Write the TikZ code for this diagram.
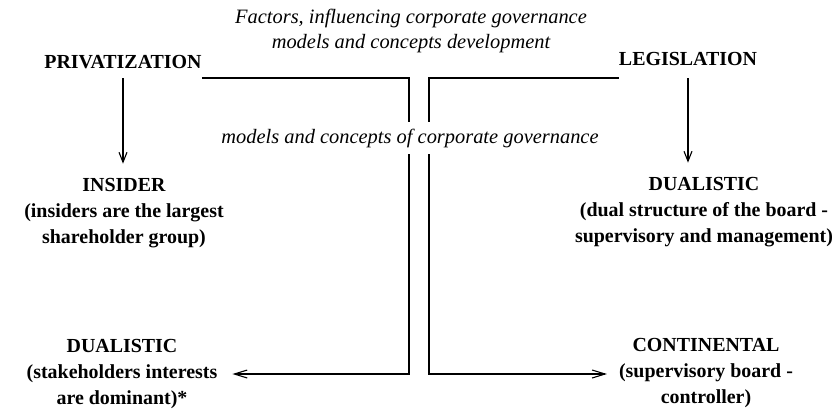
\documentclass[tikz,border=0pt]{standalone}
\usepackage{fontspec}
\setmainfont{Liberation Serif}
\usetikzlibrary{arrows.meta}
\begin{document}
\begin{tikzpicture}[x=1bp,y=-1bp,
  lbl/.style={font=\bfseries\fontsize{20}{26.5}\selectfont, align=center, inner sep=0pt},
  note/.style={font=\itshape\fontsize{20.5}{26}\selectfont, align=center, inner sep=0pt},
  wire/.style={line width=1.1pt},
  downarrow/.style={wire, -{Straight Barb[length=10pt,width=8pt]}},
  sidearrow/.style={wire, -{Straight Barb[length=13pt,width=8pt]}}]
  \fill[white] (0,0) rectangle (838,412);
  \useasboundingbox (0,0) rectangle (838,412);

  % headings
  \node[note] (title) at (411,31) {Factors, influencing corporate governance\\models and concepts development};
  \node[lbl] (priv) at (123,62) {PRIVATIZATION};
  \node[lbl] (legis) at (688,59) {LEGISLATION};

  % resulting models
  \node[lbl] (insider) at (124,213) {INSIDER\\(insiders are the largest\\shareholder group)};
  \node[lbl] (dualR) at (704,212) {DUALISTIC\\(dual structure of the board -\\supervisory and management)};
  \node[lbl] (dualL) at (122,374) {DUALISTIC\\(stakeholders interests\\are dominant)*};
  \node[lbl] (cont) at (706,373) {CONTINENTAL\\(supervisory board -\\controller)};

  % bends of the two crossing connectors
  \coordinate (lb1) at (409,78);
  \coordinate (lb2) at (409,374);
  \coordinate (rb1) at (429,78);
  \coordinate (rb2) at (429,374);

  % direct influences
  \draw[downarrow] (priv.south |- lb1) -- ([yshift=14pt]priv.south |- insider.north);
  \draw[downarrow] (legis.south |- lb1) -- ([yshift=14pt]legis.south |- dualR.north);

  % cross influences
  \draw[sidearrow] (priv.east |- lb1) -- (lb1) -- (lb2) -- ([xshift=15pt]dualL.east |- lb2);
  \draw[sidearrow] (legis.west |- rb1) -- (rb1) -- (rb2) -- ([xshift=-12pt]cont.west |- rb2);

  % caption laid over the two vertical runs
  \node[note, fill=white, inner xsep=2pt, inner ysep=7pt] (mid) at (410,138) {models and concepts of corporate governance};
\end{tikzpicture}
\end{document}
